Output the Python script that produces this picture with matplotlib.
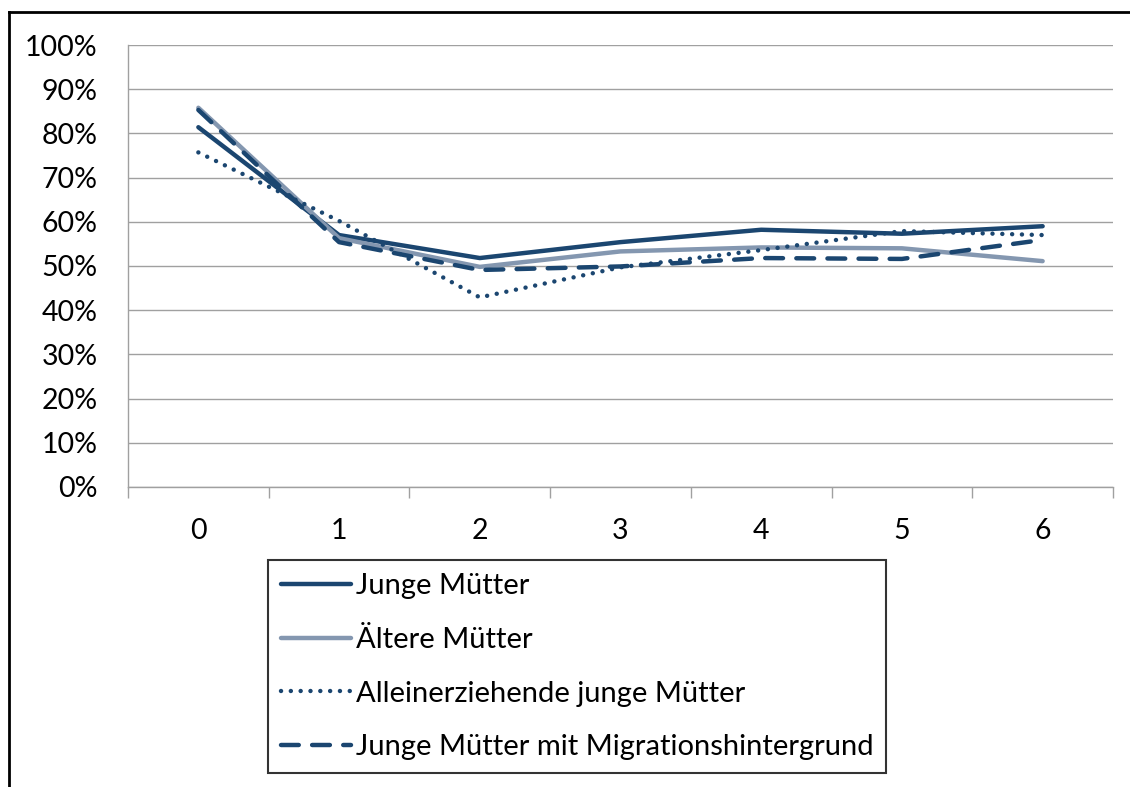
import numpy as np
import matplotlib.pyplot as plt
from matplotlib.lines import Line2D

plt.rcParams['font.family'] = ['Lato', 'DejaVu Sans']

# ---------------- data ----------------
years = [0, 1, 2, 3, 4, 5, 6]
junge = [81.4, 57.0, 51.8, 55.4, 58.2, 57.3, 59.0]
aeltere = [85.8, 56.3, 49.8, 53.3, 54.2, 54.0, 51.1]
allein = [75.7, 60.2, 42.9, 49.7, 53.6, 57.9, 57.0]
migration = [85.3, 55.4, 49.1, 49.9, 51.8, 51.6, 55.9]
labels = ["Junge Mütter", "Ältere Mütter",
          "Alleinerziehende junge Mütter",
          "Junge Mütter mit Migrationshintergrund"]
yticks = np.arange(0, 101, 10)

dark = '#1b4670'
grey = '#8497b0'

W, H = 1130, 787
fig = plt.figure(figsize=(W / 100, H / 100), dpi=100)
ax = fig.add_axes([128 / W, 1 - 487 / H, (1113 - 128) / W, (487 - 45) / H])

lw = 3.2
ax.plot(years, junge, color=dark, lw=lw, solid_capstyle='round', label=labels[0], zorder=3)
ax.plot(years, aeltere, color=grey, lw=lw, solid_capstyle='round', label=labels[1], zorder=4)
ax.plot(years, allein, color=dark, lw=lw, dashes=(0.01, 2.2), dash_capstyle='round',
        label=labels[2], zorder=5)
ax.plot(years, migration, color=dark, lw=lw, dashes=(4, 3), dash_capstyle='round',
        label=labels[3], zorder=6)

ax.set_xlim(-0.5, 6.5)
ax.set_ylim(0, 100)
ax.set_yticks(yticks)
ax.set_yticklabels([f"{v}%" for v in yticks])
ax.set_xticks(years)
ax.set_xticks(np.arange(-0.5, 7, 1), minor=True)
ax.tick_params(axis='x', which='major', length=0, pad=22, labelsize=20.5)
ax.tick_params(axis='x', which='minor', length=8, width=1, color='#a0a0a0', direction='out')
ax.tick_params(axis='y', length=0, pad=22, labelsize=20.5)
ax.grid(axis='y', color='#a0a0a0', lw=1)
ax.set_axisbelow(True)
for s in ['top', 'right']:
    ax.spines[s].set_visible(False)
for s in ['left', 'bottom']:
    ax.spines[s].set_color('#a0a0a0')
    ax.spines[s].set_linewidth(1)

leg = fig.legend(loc='upper left', bbox_to_anchor=(268 / W, 1 - 560 / H),
                 fontsize=21, frameon=True, fancybox=False, edgecolor='black',
                 handlelength=2.4, handletextpad=0.15, labelspacing=0.95,
                 borderpad=0.45, borderaxespad=0)
leg.get_frame().set_linewidth(1.5)

# outer frame (top and left edges visible)
fig.add_artist(Line2D([9 / W, 1.0], [1 - 12 / H, 1 - 12 / H], color='black', lw=2,
                      transform=fig.transFigure))
fig.add_artist(Line2D([9 / W, 9 / W], [0, 1 - 12 / H], color='black', lw=2,
                      transform=fig.transFigure))

fig.savefig('out.png', dpi=100)
